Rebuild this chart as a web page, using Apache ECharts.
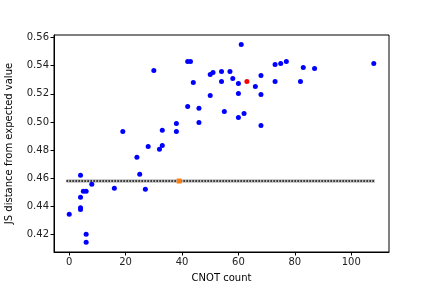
<!DOCTYPE html>
<html><head><meta charset="utf-8">
<script src="https://cdn.jsdelivr.net/npm/echarts@6/dist/echarts.min.js"></script>
<style>html,body{margin:0;padding:0;background:#fff}#c{width:432px;height:288px}</style>
</head><body><div id="c"></div>
<script>
const cnotCounts = [0,4,4,4,4,5,6,6,6,8,16,19,24,25,27,28,30,32,33,33,38,38,42,42,43,44,46,46,50,50,51,54,54,55,57,58,60,60,60,61,62,66,68,68,68,73,73,75,77,82,83,87,108];
const jsDistances = [0.4345,0.4622,0.4466,0.4392,0.4378,0.4508,0.4508,0.4203,0.4147,0.4558,0.4529,0.4933,0.4749,0.4629,0.4522,0.4827,0.5366,0.4806,0.4834,0.4941,0.4990,0.4933,0.5111,0.5430,0.5430,0.5280,0.5097,0.4997,0.5338,0.5189,0.5352,0.5359,0.5288,0.5075,0.5359,0.5309,0.5274,0.5203,0.5033,0.5550,0.5061,0.5253,0.5331,0.5196,0.4976,0.5409,0.5288,0.5416,0.5430,0.5288,0.5387,0.5380,0.5416];
const redPoint = [63, 0.5288];
const orangePoint = [39, 0.4581];
const baselineValue = 0.4581;
const baselineX = [-1, 108.4];
const xTicks = [0,20,40,60,80,100];
const yTicks = [0.42,0.44,0.46,0.48,0.50,0.52,0.54,0.56];

const chart = echarts.init(document.getElementById('c'), null, {renderer:'canvas'});
const font = 'DejaVu Sans';
const blueData = cnotCounts.map((x,i)=>[x, jsDistances[i]]);
const lineData = baselineX.map(x=>[x, baselineValue]);
chart.setOption({
  animation:false,
  textStyle:{fontFamily:font},
  grid:{left:54,right:43,top:35,bottom:36,containLabel:false,outerBoundsMode:'none',show:true,borderColor:'#000',borderWidth:1,backgroundColor:'transparent'},
  xAxis:{type:'value',min:-5.4,max:113.4,
    name:'CNOT count',nameLocation:'middle',nameGap:21,nameMoveOverlap:false,
    nameTextStyle:{fontFamily:font,fontSize:10,color:'#000'},
    axisLine:{show:true,onZero:false,lineStyle:{color:'#000',width:1}},
    axisTick:{show:true,length:3.5,inside:false,customValues:xTicks,lineStyle:{color:'#000'}},
    axisLabel:{customValues:xTicks,fontFamily:font,fontSize:10,color:'#222',margin:5},
    splitLine:{show:false}},
  yAxis:{type:'value',min:0.4077,max:0.5618,
    name:'JS distance from expected value',nameLocation:'middle',nameGap:40,nameMoveOverlap:false,
    nameTextStyle:{fontFamily:font,fontSize:10,color:'#000'},
    axisLine:{show:true,onZero:false,lineStyle:{color:'#000',width:1}},
    axisTick:{show:true,length:3.5,customValues:yTicks,lineStyle:{color:'#000'}},
    axisLabel:{customValues:yTicks,fontFamily:font,fontSize:10,color:'#222',margin:5,
      formatter:v=>v.toFixed(2)},
    splitLine:{show:false}},
  series:[
    {type:'line',data:lineData,symbol:'none',lineStyle:{color:'#bbbbbb',width:3.5},z:1},
    {type:'line',data:lineData,symbol:'none',lineStyle:{color:'#000',width:1.5,type:[1.5,1.5]},z:2},
    {type:'scatter',data:blueData,symbol:'circle',symbolSize:5,itemStyle:{color:'#0000ff',opacity:1},z:3},
    {type:'scatter',data:[redPoint],symbol:'circle',symbolSize:5,itemStyle:{color:'#ff0000',opacity:1},z:4},
    {type:'scatter',data:[orangePoint],symbol:'rect',symbolSize:5,itemStyle:{color:'#ff7f0e',opacity:1},z:4}
  ]
});
</script></body></html>
